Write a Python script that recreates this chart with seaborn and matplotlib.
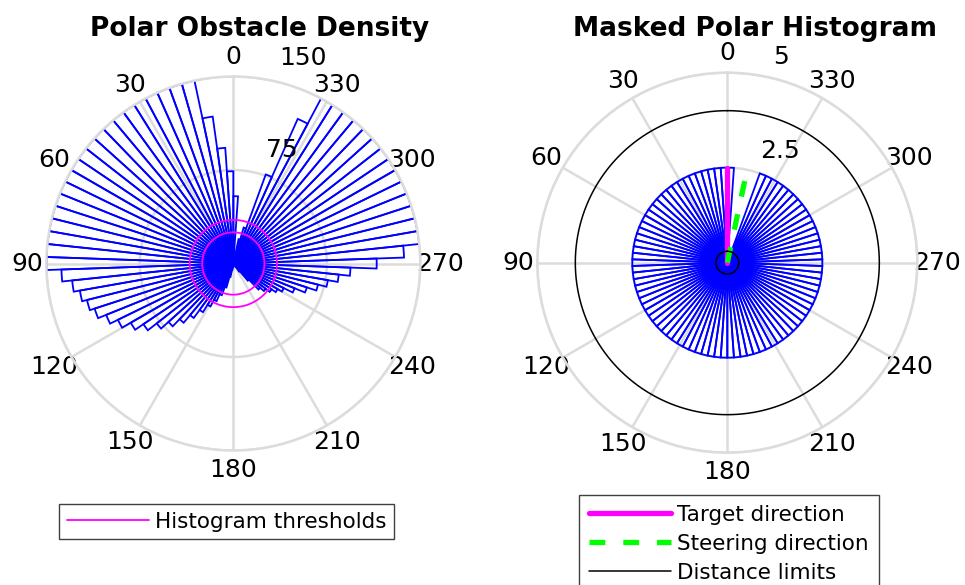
import numpy as np
import matplotlib
matplotlib.use("Agg")
import matplotlib.pyplot as plt
import matplotlib.transforms as mtransforms
import seaborn as sns

# histogram sectors: 90 bins of 4 degrees, angle counted counter-clockwise from the top
bin_width_deg = 4
bin_starts_deg = list(range(0, 360, bin_width_deg))

obstacle_density = [
    74, 93, 119, 150, 150, 150, 150, 150, 150, 150,      # 0 - 40
    150, 150, 150, 150, 150, 150, 150, 150, 150, 150,    # 40 - 80
    150, 150, 150, 138, 130, 125, 121, 117, 110, 103,    # 80 - 120
    95, 87, 78, 70, 62, 54, 46, 39, 33, 27,              # 120 - 160
    20, 11, 5, 2, 1, 0, 0, 0, 0, 0,                      # 160 - 200
    0, 0, 0, 3, 8, 18, 29, 33, 37, 41,                   # 200 - 240
    45, 53, 62, 70, 77, 85, 94, 115, 137, 150,           # 240 - 280
    150, 150, 150, 150, 150, 150, 150, 150, 150, 150,    # 280 - 320
    150, 150, 150, 127, 76, 30, 20, 2, 1, 54,            # 320 - 360
]

masked_histogram = [2.5] * 85 + [0, 0, 0, 0] + [2.5]

histogram_thresholds = [25, 35]
distance_limits = [0.3, 4]
target_direction_deg = 0
steering_direction_deg = -12
direction_length = 2.5

theta_ticks_deg = list(range(0, 360, 30))
density_rmax = 150
density_rticks = [75, 150]
masked_rmax = 5
masked_rticks = [2.5, 5]

grid_color = "#dcdcdc"
bar_color = "#0000ff"

sns.set_theme(style="white")
plt.rcParams["font.family"] = ["DejaVu Sans"]
plt.rcParams["text.color"] = "black"
plt.rcParams["xtick.color"] = "black"
plt.rcParams["ytick.color"] = "black"


def style_polar(ax, rmax, rticks, fig, label_dy):
    ax.set_theta_zero_location("N")
    ax.set_theta_direction(1)
    ax.set_ylim(0, rmax)
    ax.set_axisbelow(True)
    ax.set_xticks(np.deg2rad(theta_ticks_deg))
    ax.set_xticklabels([str(t) for t in theta_ticks_deg])
    ax.set_yticks(rticks)
    ax.set_yticklabels([])
    ax.grid(True, color=grid_color, linewidth=1.8)
    ax.spines["polar"].set_color(grid_color)
    ax.spines["polar"].set_linewidth(1.8)
    ax.tick_params(axis="x", labelsize=18, pad=7, length=0, colors="black")
    ax.tick_params(axis="y", length=0)
    ax.set_facecolor("white")
    # r tick labels sit just outside their rings, right of the top
    off = mtransforms.offset_copy(ax.transData, fig=fig, x=14, y=label_dy, units="points")
    for r in rticks:
        ax.text(np.deg2rad(352), r, f"{r:g}", transform=off,
                ha="left", va="center", fontsize=18, color="black")


def circle(ax, radius, **kw):
    t = np.linspace(0, 2 * np.pi, 361)
    sns.lineplot(x=t, y=np.full_like(t, radius), ax=ax, sort=False,
                 estimator=None, legend=False, **kw)


fig = plt.figure(figsize=(9.65, 5.85), dpi=100)
ax1 = fig.add_axes([0.048, 0.2299, 0.3876, 0.6393], projection="polar")
ax2 = fig.add_axes([0.5568, 0.2262, 0.3938, 0.6496], projection="polar")

theta_edges = np.deg2rad(bin_starts_deg)
width = np.deg2rad(bin_width_deg)

# --- Polar Obstacle Density ---
style_polar(ax1, density_rmax, density_rticks, fig, 15)
ax1.bar(theta_edges, obstacle_density, width=width, align="edge",
        fill=False, edgecolor=bar_color, linewidth=1.3, zorder=2)
for thr in histogram_thresholds:
    circle(ax1, thr, color="magenta", linewidth=1.3, zorder=3)
ax1.set_title("Polar Obstacle Density", x=0.57, y=1.127, pad=0, va="center",
              fontsize=19, fontweight="bold", color="black")
thr_handle = ax1.lines[0]
fig.legend([thr_handle], ["Histogram thresholds"], loc="center",
           bbox_to_anchor=(0.235, 0.108), fontsize=15.5, frameon=True,
           fancybox=False, framealpha=1, edgecolor="#404040",
           handlelength=3.8, handletextpad=0.3, borderpad=0.35,
           labelcolor="black")

# --- Masked Polar Histogram ---
style_polar(ax2, masked_rmax, masked_rticks, fig, 12.8)
ax2.bar(theta_edges, masked_histogram, width=width, align="edge",
        fill=False, edgecolor=bar_color, linewidth=1.3, zorder=2)
sns.lineplot(x=np.deg2rad([target_direction_deg] * 2), y=[0, direction_length],
             ax=ax2, sort=False, estimator=None, legend=False,
             color="magenta", linewidth=3.8, zorder=3)
sns.lineplot(x=np.deg2rad([steering_direction_deg] * 2), y=[0, direction_length],
             ax=ax2, sort=False, estimator=None, legend=False,
             color="#00ff00", linewidth=3.8, zorder=3)
ax2.lines[-1].set_dashes((3, 3.4))
for lim in distance_limits:
    circle(ax2, lim, color="black", linewidth=1.1, zorder=4)
ax2.set_title("Masked Polar Histogram", x=0.573, y=1.115, pad=0, va="center",
              fontsize=19, fontweight="bold", color="black")
h = ax2.lines
fig.legend([h[0], h[1], h[2]],
           ["Target direction", "Steering direction", "Distance limits"],
           loc="upper center", bbox_to_anchor=(0.7554, 0.1538), fontsize=15.5,
           frameon=True, fancybox=False, framealpha=1, edgecolor="#404040",
           handlelength=3.8, handletextpad=0.3, borderpad=0.45,
           labelspacing=0.42, borderaxespad=0, labelcolor="black")

fig.savefig("out.png", dpi=100, facecolor="white")
